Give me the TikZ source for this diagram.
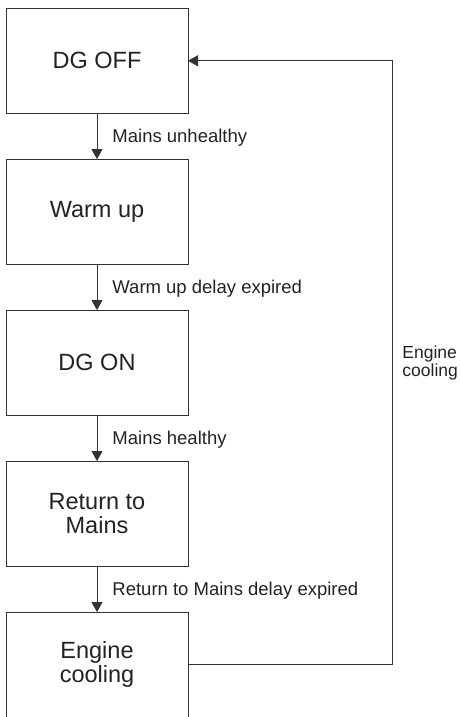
\documentclass[tikz,border=0pt]{standalone}
\usepackage{fontspec}
\setmainfont{Liberation Sans}
\usepackage{xcolor}
\usepackage{tikz}
\usetikzlibrary{arrows.meta, positioning, calc}
\definecolor{linegrey}{HTML}{333333}
\definecolor{textgrey}{HTML}{222222}

\begin{document}
\begin{tikzpicture}[
  node distance=45.5pt,
  every node/.style={text=textgrey},
  state/.style={
    rectangle, draw=linegrey, line width=0.9pt,
    minimum width=182pt, minimum height=105.5pt,
    outer sep=0pt, align=center,
    font=\fontsize{23.5}{24}\selectfont,
  },
  trans/.style={
    inner sep=0pt, align=left,
    font=\fontsize{18.5}{18}\selectfont,
  },
  arrow/.style={-{Triangle[length=10pt,width=11pt]}, line width=0.9pt, color=linegrey},
]

\useasboundingbox (0,0) rectangle (460pt,-717pt);

\node[state, anchor=north west] (off) at (6pt,-8pt) {DG OFF};
\node[state, below=of off]    (warm)  {Warm up};
\node[state, below=of warm]   (on)    {DG ON};
\node[state, below=of on]     (ret)   {Return to\\Mains};
\node[state, below=of ret]    (cool)  {Engine\\cooling};

% forward transitions
\draw[arrow] (off)  -- node[trans, right=15pt, yshift=-1.5pt]{Mains unhealthy} (warm);
\draw[arrow] (warm) -- node[trans, right=15pt, yshift=-1.5pt]{Warm up delay expired} (on);
\draw[arrow] (on)   -- node[trans, right=15pt, yshift=-1.5pt]{Mains healthy} (ret);
\draw[arrow] (ret)  -- node[trans, right=15pt, yshift=-1.5pt]{Return to Mains delay expired} (cool);

% back to DG OFF
\coordinate (loop) at ($(cool.east)+(204pt,0)$);
\draw[arrow] (cool.east) -- (loop) |- node[trans, pos=0.25, right=10pt,
  font=\fontsize{17.5}{18}\selectfont]{Engine\\cooling} (off.east);

\end{tikzpicture}
\end{document}
